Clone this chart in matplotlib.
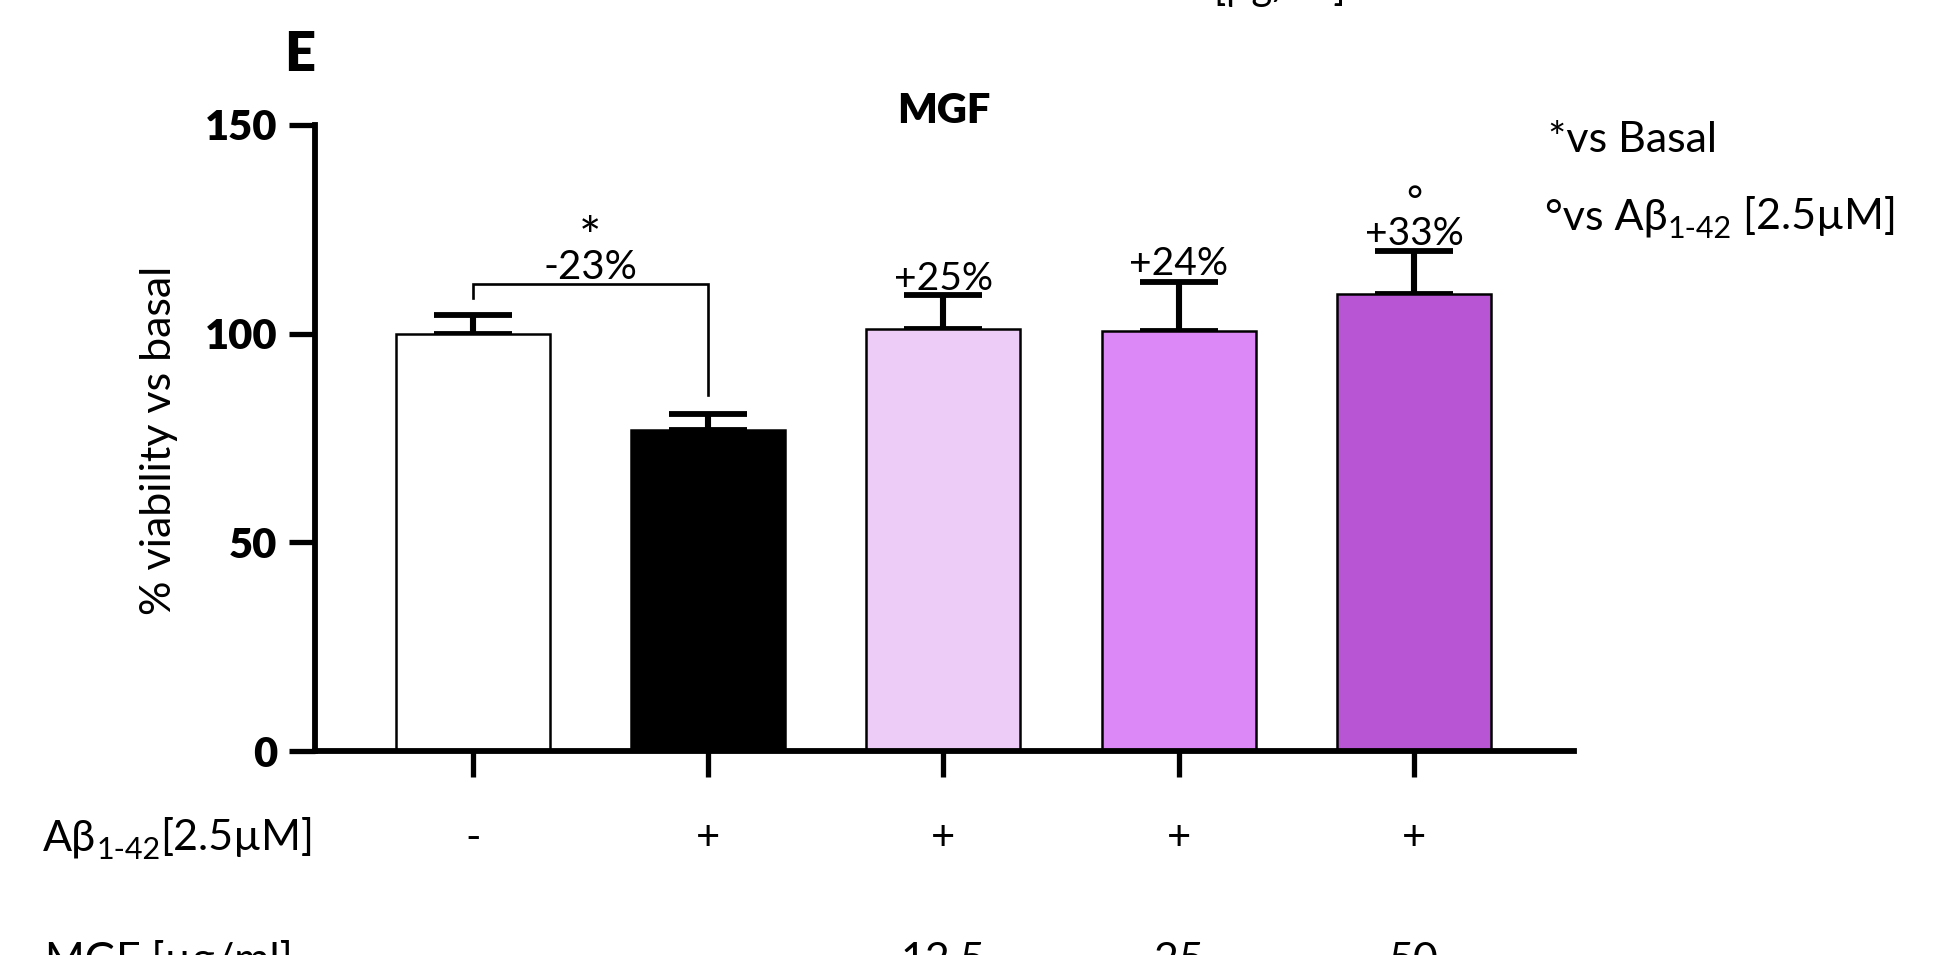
import matplotlib
matplotlib.use('Agg')
import matplotlib.pyplot as plt
import numpy as np

plt.rcParams['font.family'] = ['Lato', 'DejaVu Sans']

# viability data (% of basal), mean and upper SEM
groups = ['Basal', 'Abeta', 'MGF 12.5', 'MGF 25', 'MGF 50']
viability = [100.0, 76.9, 101.2, 100.6, 109.5]
sem = [4.4, 3.9, 8.0, 11.8, 10.3]
bar_colors = ['#FFFFFF', '#000000', '#EECCF8', '#DD88F7', '#B855D5']

# annotations above the bars
change_labels = ['', '', '+25%', '+24%', '+33%']
change_y = [0, 0, 110.5, 114.0, 121.3]
abeta_signs = ['-', '+', '+', '+', '+']
mgf_doses = ['', '', '12.5', '25', '50']

W, H = 1936, 955
fig = plt.figure(figsize=(W / 100, H / 100), dpi=100)
ax = fig.add_axes([315 / W, 1 - 751 / H, (1574 - 315) / W, (751 - 125) / H])

x = np.arange(len(groups))
ax.bar(x, viability, width=0.655, color=bar_colors, edgecolor='black',
       linewidth=1.8, zorder=2)
ax.errorbar(x, viability, yerr=[np.zeros(len(sem)), sem], fmt='none',
            ecolor='black', elinewidth=4.4, capsize=28, capthick=4.2, zorder=1)

# significance bracket basal vs Abeta
ax.plot([0, 0, 1, 1], [108.6, 111.8, 111.8, 85.2], color='black', lw=1.9,
        solid_joinstyle='miter', zorder=3)
ax.text(0.5, 113.1, '-23%', ha='center', va='baseline', fontsize=29)
ax.text(0.5, 118.8, '*', ha='center', va='baseline', fontsize=38)

for xi, lab, yy in zip(x, change_labels, change_y):
    if lab:
        ax.text(xi, yy, lab, ha='center', va='baseline', fontsize=28)
ax.text(4, 128.6, '\u00b0', ha='center', va='baseline', fontsize=28)

ax.set_xlim(-0.67, 4.68)
ax.set_ylim(0, 150)
ax.set_yticks([0, 50, 100, 150])
ax.set_xticks(x)
ax.set_xticklabels([])
for lab in ax.get_yticklabels():
    lab.set_fontweight('heavy')
ax.tick_params(axis='both', direction='out', length=19, width=3.8,
               labelsize=30, pad=8)
for side in ['top', 'right']:
    ax.spines[side].set_visible(False)
for side in ['left', 'bottom']:
    ax.spines[side].set_linewidth(4.2)

ax.set_ylabel('% viability vs basal', fontsize=31)
ax.yaxis.set_label_coords((178 - 315) / (1574 - 315), 0.497)

renderer = fig.canvas.get_renderer()


def rich_text(x_px, y_px, parts):
    # draw text pieces side by side; y_px is the baseline, measured from the top
    for s, size, dy in parts:
        t = fig.text(x_px / W, 1 - (y_px + dy) / H, s, fontsize=size,
                     ha='left', va='baseline')
        x_px = t.get_window_extent(renderer).x1


fig.text(300 / W, 1 - 71 / H, 'E', fontsize=39, fontweight='heavy',
         ha='center', va='baseline')
fig.text(944 / W, 1 - 123 / H, 'MGF', fontsize=30, fontweight='heavy',
         ha='center', va='baseline')
fig.text(1213 / W, 1.0, '[\u00b5g/ml]', fontsize=29, ha='left', va='baseline')

# legend of symbols
fig.text(1548 / W, 1 - 152 / H, '*vs Basal', fontsize=31, ha='left',
         va='baseline')
rich_text(1545, 229, [('\u00b0vs A\u03b2', 31, 0), ('1-42', 22, 9),
                      (' [2.5\u00b5M]', 31, 0)])

# treatment table under the axis
rich_text(43, 850, [('A\u03b2', 31, 0), ('1-42', 22, 9), ('[2.5\u00b5M]', 31, 0)])
tr = ax.get_xaxis_transform()
for xi, s in zip(x, abeta_signs):
    ax.text(xi, -(850 - 751) / (751 - 125), s, transform=tr, ha='center',
            va='baseline', fontsize=30, clip_on=False)

fig.text(45 / W, 1 - 973 / H, 'MGF [\u00b5g/ml]', fontsize=31, ha='left',
         va='baseline')
for xi, s in zip(x, mgf_doses):
    if s:
        ax.text(xi, -(973 - 751) / (751 - 125), s, transform=tr, ha='center',
                va='baseline', fontsize=31, clip_on=False)

fig.savefig('out.png', dpi=100)
